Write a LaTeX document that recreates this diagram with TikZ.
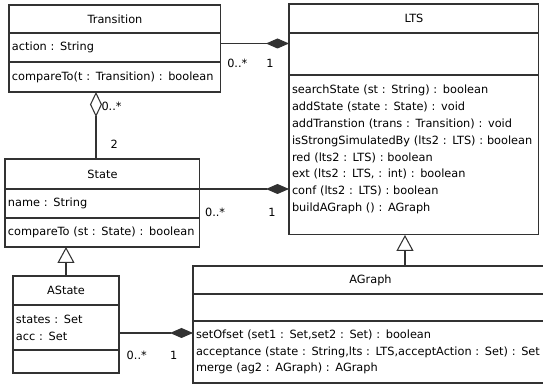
\documentclass[tikz,border=0pt]{standalone}
\usepackage{fontspec}
\setmainfont{DejaVu Sans}
\usepackage{tikz}
\usetikzlibrary{
arrows.meta,
positioning
}
\definecolor{umlline}{RGB}{50,50,50}
\newcommand{\umlfont}{\fontsize{6.45}{9.6}\selectfont}

\begin{document}
\begin{tikzpicture}[
  x=0.02cm, y=-0.02cm,
  cls/.style={draw=umlline, line width=0.6pt, fill=white, outer sep=0pt,
              inner xsep=0.06cm, inner ysep=0pt, font=\umlfont},
  head/.style={cls, align=center},
  part/.style={cls, align=left},
  link/.style={draw=umlline, line width=0.6pt},
  comp/.style={link, -{Diamond[length=0.46cm, width=0.2cm]}},
  aggr/.style={link, {Diamond[open, length=0.5cm, width=0.24cm]}-},
  inherit/.style={link, -{Triangle[open, length=0.32cm, width=0.34cm]}},
  mult/.style={font=\umlfont, inner sep=0pt}
]
\useasboundingbox (0,0) rectangle (543,385);

%% Class: Transition
\node[head, text width=4.12cm, minimum height=0.56cm, anchor=north west]
  (trans) at (9,5) {Transition};
\node[part, text width=4.12cm, minimum height=0.58cm, below=0pt of trans]
  (transattr) {action : String};
\node[part, text width=4.12cm, minimum height=0.60cm, below=0pt of transattr]
  (transops) {compareTo(t : Transition) : boolean};

%% Class: LTS
\node[head, text width=4.88cm, minimum height=0.58cm, anchor=north west]
  (lts) at (289,4) {LTS};
\node[part, text width=4.88cm, minimum height=0.84cm, below=0pt of lts]
  (ltsattr) {};
\node[part, text width=4.88cm, minimum height=3.2cm, text depth=2.63cm,
      below=0pt of ltsattr] (ltsops)
  {searchState (st : String) : boolean\\
   addState (state : State) : void\\
   addTranstion (trans : Transition) : void\\
   isStrongSimulatedBy (lts2 : LTS) : boolean\\
   red (lts2 : LTS) : boolean\\
   ext (lts2 : LTS, : int) : boolean\\
   conf (lts2 : LTS) : boolean\\
   buildAGraph () : AGraph};

%% Class: State
\node[head, text width=3.78cm, minimum height=0.60cm, anchor=north west]
  (state) at (5,159) {State};
\node[part, text width=3.78cm, minimum height=0.58cm, below=0pt of state]
  (stateattr) {name : String};
\node[part, text width=3.78cm, minimum height=0.58cm, below=0pt of stateattr]
  (stateops) {compareTo (st : State) : boolean};

%% Class: AState
\node[head, text width=2.0cm, minimum height=0.58cm, anchor=north west]
  (astate) at (13,276) {AState};
\node[part, text width=2.0cm, minimum height=0.9cm, below=0pt of astate]
  (astateattr) {states : Set\\acc : Set};
\node[part, text width=2.0cm, minimum height=0.46cm, below=0pt of astateattr]
  (astateops) {};

%% Class: AGraph
\node[head, text width=6.98cm, minimum height=0.56cm, anchor=north west]
  (agraph) at (193,266) {AGraph};
\node[part, text width=6.98cm, minimum height=0.54cm, below=0pt of agraph]
  (agraphattr) {};
\node[part, text width=6.98cm, minimum height=1.24cm, below=0pt of agraphattr]
  (agraphops)
  {setOfset (set1 : Set,set2 : Set) : boolean\\
   acceptance (state : String,lts : LTS,acceptAction : Set) : Set\\
   merge (ag2 : AGraph) : AGraph};

%% Composition: Transition -- LTS
\coordinate (t2l) at ([yshift=0.08cm]transattr.east);
\draw[comp] (t2l) -- (t2l -| lts.west)
  node[mult, pos=0.24, below=0.3cm] {0..*}
  node[mult, pos=0.72, below=0.3cm] {1};

%% Aggregation: Transition -- State
\coordinate (aggtop) at ([xshift=-0.38cm]transops.south);
\draw[aggr] (aggtop) -- (aggtop |- state.north)
  node[mult, pos=0.22, right=0.1cm] {0..*}
  node[mult, pos=0.78, right=0.28cm] {2};

%% Composition: State -- LTS
\draw[comp] (stateattr.north east) -- (stateattr.north east -| lts.west)
  node[mult, pos=0.17, below=0.38cm] {0..*}
  node[mult, pos=0.81, below=0.38cm] {1};

%% Generalization: AState -> State
\draw[inherit] (astate.north) -- (astate.north |- stateops.south);

%% Generalization: AGraph -> LTS
\coordinate (ltsfoot) at ([xshift=-0.18cm]ltsops.south);
\draw[inherit] (agraph.north -| ltsfoot) -- (ltsfoot);

%% Composition: AState -- AGraph
\coordinate (a2g) at ([yshift=-0.11cm]astateattr.east);
\draw[comp] (a2g) -- (a2g -| agraphops.west)
  node[mult, pos=0.24, below=0.36cm] {0..*}
  node[mult, pos=0.74, below=0.36cm] {1};

\end{tikzpicture}
\end{document}
